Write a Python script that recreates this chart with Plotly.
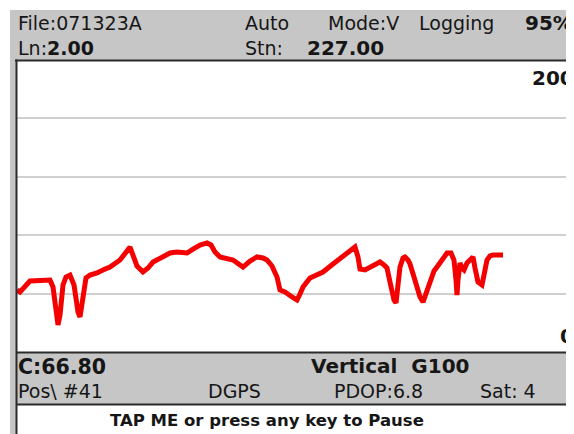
import plotly.graph_objects as go

# ---- data ----
distance = [0, 3, 13, 23, 33, 36, 39, 41, 43, 46,
            49, 53, 57, 61, 63, 66, 69, 73, 80, 88,
            93, 103, 110, 113, 117, 120, 126, 131, 136, 146,
            153, 160, 170, 176, 183, 190, 194, 198, 203, 216,
            223, 226, 233, 240, 246, 250, 255, 260, 263, 268,
            275, 280, 283, 286, 293, 299, 306, 316, 326, 333,
            338, 341, 343, 348, 353, 358, 363, 367, 370, 373,
            375, 377, 379, 381, 383, 386, 388, 391, 393, 397,
            400, 403, 406, 409, 413, 417, 420, 425, 430, 434,
            437, 439, 440, 441, 443, 445, 447, 450, 453, 456,
            458, 461, 465, 468, 470, 473, 476, 481, 486]
reading = [42.5, 41.1, 48.6, 49.3, 49.3, 44.5, 28.8, 18.5, 25.3, 45.9,
           51.4, 52.7, 45.9, 27.4, 24.0, 35.6, 50.7, 52.7, 54.1, 56.8,
           58.2, 63.0, 68.5, 71.9, 64.4, 58.9, 54.8, 57.5, 61.6, 65.8,
           67.8, 68.5, 67.8, 70.5, 73.3, 74.7, 73.3, 68.5, 65.1, 63.0,
           60.3, 58.2, 62.3, 65.1, 64.4, 63.0, 58.9, 51.4, 42.5, 41.1,
           37.7, 35.6, 39.7, 44.5, 50.7, 52.7, 54.8, 60.3, 65.8, 69.2,
           71.9, 65.1, 56.8, 56.2, 58.2, 60.3, 61.6, 59.6, 57.5, 47.9,
           41.1, 35.6, 33.6, 45.9, 58.2, 64.4, 65.1, 63.0, 60.3, 51.4,
           44.5, 37.7, 34.2, 40.4, 49.3, 55.5, 58.2, 63.0, 67.8, 67.8,
           63.0, 49.3, 39.0, 49.3, 61.0, 57.5, 56.2, 61.0, 63.0, 65.1,
           57.5, 47.9, 45.9, 56.2, 63.0, 65.8, 66.4, 66.4, 66.4]
y_min, y_max = 0, 200
x_span = 557
grid_vals = [40, 80, 120, 160]

header_left = ["File:071323A", "Ln:<b>2.00</b>"]
header_mid = ["Auto", "Stn:"]
status = {"mode": "Mode:V", "log": "Logging", "batt": "95%", "stn": "227.00"}
footer = {"c": "C:66.80", "mode": "Vertical  G100", "pos": "Pos\\ #41",
          "gps": "DGPS", "pdop": "PDOP:6.8", "sat": "Sat: 4"}
button_text = "TAP ME or press any key to Pause"

# page has an 8px body margin: figure occupies window pixels 8..574, 8..434
OFF = 8
W, H = 574 - OFF, 434 - OFF


def X(px):
    return (px - OFF) / W


def Y(py):
    return 1 - (py - OFF) / H


FONT = "DejaVu Sans"
TXT = "#161616"
GRAY = "#c6c6c6"
LINE = "#2b2b2b"

fig = go.Figure()
fig.add_trace(go.Scatter(x=distance, y=reading, mode="lines",
                         line=dict(color="#f40000", width=5),
                         hoverinfo="skip", showlegend=False))

shapes = [
    # gray panels
    dict(type="rect", xref="paper", yref="paper", x0=X(10), x1=X(574), y0=Y(10), y1=Y(60),
         fillcolor=GRAY, line_width=0, layer="below"),
    dict(type="rect", xref="paper", yref="paper", x0=X(10), x1=X(16), y0=Y(60), y1=Y(434),
         fillcolor=GRAY, line_width=0, layer="below"),
    dict(type="rect", xref="paper", yref="paper", x0=X(16), x1=X(574), y0=Y(352), y1=Y(404),
         fillcolor=GRAY, line_width=0, layer="below"),
    # frame lines
    dict(type="line", xref="paper", yref="paper", x0=X(15), x1=X(574), y0=Y(60.5), y1=Y(60.5),
         line=dict(color=LINE, width=2)),
    dict(type="line", xref="paper", yref="paper", x0=X(16.5), x1=X(16.5), y0=Y(59.5), y1=Y(434),
         line=dict(color=LINE, width=2)),
    dict(type="line", xref="paper", yref="paper", x0=X(16), x1=X(574), y0=Y(352.5), y1=Y(352.5),
         line=dict(color=LINE, width=2)),
    dict(type="line", xref="paper", yref="paper", x0=X(16), x1=X(574), y0=Y(404.5), y1=Y(404.5),
         line=dict(color=LINE, width=2)),
]

ann = []


def txt(text, px, py, size=19, anchor="left", bold=False):
    ann.append(dict(text=f"<b>{text}</b>" if bold else text, x=X(px), y=Y(py),
                    xref="paper", yref="paper", xanchor=anchor, yanchor="middle",
                    showarrow=False, font=dict(family=FONT, size=size, color=TXT)))


txt(header_left[0], 16, 23)
txt(header_left[1], 16, 48)
txt(header_mid[0], 243, 23)
txt(header_mid[1], 243, 48)
txt(status["mode"], 326, 23)
txt(status["log"], 417, 23)
txt(status["batt"], 575, 23, size=20, anchor="right", bold=True)
txt(status["stn"], 305, 48, size=20, bold=True)

txt(footer["c"], 16, 367, size=20.5, bold=True)
txt(footer["mode"], 309, 366, size=20, bold=True)
txt(footer["pos"], 16, 391)
txt(footer["gps"], 234, 391, anchor="center")
txt(footer["pdop"], 332, 391)
txt(footer["sat"], 478, 391)
txt(button_text, 267, 420, size=16.5, anchor="center", bold=True)

# axis end labels
for val, shift, ya in [(y_max, -4, "top"), (y_min, 2, "bottom")]:
    ann.append(dict(text=f"<b>{val}</b>", x=1, y=val, xref="paper", yref="y",
                    xanchor="right", yanchor=ya, yshift=shift, xshift=2, showarrow=False,
                    font=dict(family=FONT, size=20, color=TXT)))

fig.update_layout(
    width=W, height=H, margin=dict(l=0, r=0, t=0, b=0),
    paper_bgcolor="white", plot_bgcolor="white",
    shapes=shapes, annotations=ann,
    xaxis=dict(domain=[X(17), 1], range=[0, x_span], showgrid=False, zeroline=False,
               showticklabels=False, ticks="", showline=False, fixedrange=True),
    yaxis=dict(domain=[Y(352), Y(60)], range=[y_min, y_max], tickvals=grid_vals,
               showgrid=True, gridcolor="#d0d0d0", gridwidth=2, zeroline=False,
               showticklabels=False, ticks="", showline=False, fixedrange=True),
)

fig.write_html("out.html", config={"displayModeBar": False})
